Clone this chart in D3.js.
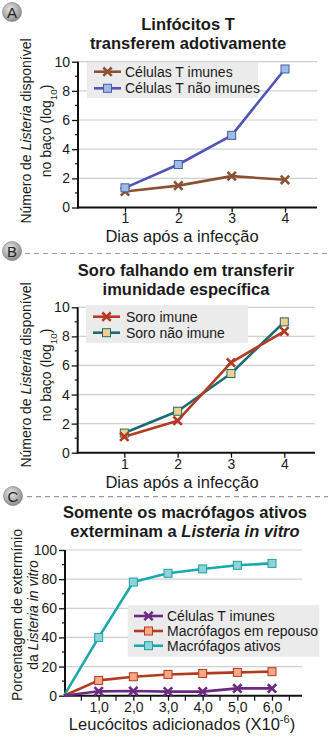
<!DOCTYPE html>
<html><head><meta charset="utf-8">
<script src="https://cdn.jsdelivr.net/npm/d3@7"></script>
<style>
body{margin:0;background:#fff;}
svg{display:block;font-family:"Liberation Sans",Arial,sans-serif;}
</style></head>
<body><svg id="c" width="328" height="741"></svg>
<script>
// ---- Data ----
const daysAB = [1, 2, 3, 4];
const aTImunes = [1.1, 1.5, 2.15, 1.9];
const aTNaoImunes = [1.35, 2.95, 4.95, 9.5];
const bSoroImune = [1.1, 2.2, 6.2, 8.35];
const bSoroNaoImune = [1.35, 2.85, 5.45, 9.0];
const leucC = [0, 1, 2, 3, 4, 5, 6];
const cTImunes = [0, 3, 3.2, 2.8, 2.8, 5, 5];
const cRepouso = [0, 10.5, 13, 14.6, 15.3, 16, 16.5];
const cAtivos = [0, 40, 78, 84, 87, 89.5, 90.8];
const ticksAB = [0, 2, 4, 6, 8, 10];
const minorAB = [1, 3, 5, 7, 9];
const ticksC = [0, 20, 40, 60, 80, 100];
const minorC = [10, 30, 50, 70, 90];
const xTicksC = [1, 2, 3, 4, 5, 6];
const xLabelsC = ["1,0", "2,0", "3,0", "4,0", "5,0", "6,0"];
const xMinorC = [0.5, 1.5, 2.5, 3.5, 4.5, 5.5, 6.5];

const svg = d3.select("#c");

function badge(cx, cy, letter) {
  const defs = svg.select("defs").empty() ? svg.append("defs") : svg.select("defs");
  if (defs.select("#bg").empty()) {
    const g = defs.append("radialGradient").attr("id", "bg").attr("cx", "40%").attr("cy", "35%").attr("r", "65%");
    g.append("stop").attr("offset", "0%").attr("stop-color", "#e6e6e6");
    g.append("stop").attr("offset", "100%").attr("stop-color", "#8e8e8e");
  }
  svg.append("circle").attr("cx", cx).attr("cy", cy).attr("r", 9.5).attr("fill", "url(#bg)").attr("stroke", "#777").attr("stroke-width", 0.6);
  svg.append("text").attr("x", cx).attr("y", cy + 5.5).attr("text-anchor", "middle").attr("font-size", 15).attr("fill", "#222").text(letter);
}

function dashLine(y, x0) {
  svg.append("line").attr("x1", x0).attr("x2", 328).attr("y1", y).attr("y2", y)
    .attr("stroke", "#9a9a9a").attr("stroke-width", 1.2).attr("stroke-dasharray", "5,4");
}

function title(lines, cx, y0) {
  lines.forEach((ln, i) => {
    const t = svg.append("text").attr("x", cx).attr("y", y0 + i * 18.5).attr("text-anchor", "middle")
      .attr("font-size", 16.5).attr("font-weight", "bold").attr("fill", "#1a1a1a");
    ln.forEach(seg => t.append("tspan").attr("font-style", seg.i ? "italic" : "normal").text(seg.t));
  });
}

function yLabel(lines, xs, cy, fs) {
  lines.forEach((ln, i) => {
    const t = svg.append("text").attr("transform", `translate(${xs[i]},${cy}) rotate(-90)`)
      .attr("text-anchor", "middle").attr("font-size", fs).attr("fill", "#1a1a1a");
    ln.forEach(seg => {
      const ts = t.append("tspan").attr("font-style", seg.i ? "italic" : "normal").text(seg.t);
      if (seg.sub) ts.attr("font-size", fs * 0.7).attr("baseline-shift", "sub");
    });
  });
}

function marker(g, type, x, y, stroke, fill) {
  if (type === "x") {
    const s = 4.2;
    g.append("path").attr("d", `M${x - s},${y - s}L${x + s},${y + s}M${x - s},${y + s}L${x + s},${y - s}`)
      .attr("stroke", stroke).attr("stroke-width", 2.6).attr("fill", "none");
  } else {
    g.append("rect").attr("x", x - 4).attr("y", y - 4).attr("width", 8).attr("height", 8)
      .attr("fill", fill).attr("stroke", stroke).attr("stroke-width", 1);
  }
}

function panel(o) {
  const {x, y, xAxisEnd, xAxisStart} = o;
  const g = svg.append("g");
  o.yTicks.filter(v => v > 0).forEach(v => {
    g.append("line").attr("x1", xAxisStart).attr("x2", xAxisEnd).attr("y1", y(v)).attr("y2", y(v))
      .attr("stroke", "#cfcfcf").attr("stroke-width", 1.2);
  });
  const L = o.legend;
  g.append("rect").attr("x", L.x0).attr("y", L.y0).attr("width", L.x1 - L.x0).attr("height", L.y1 - L.y0).attr("fill", "#ebebeb");
  const yAx = d3.axisLeft(y).tickValues(o.yTicks).tickSize(6).tickSizeOuter(0).tickPadding(2);
  const ya = g.append("g").attr("transform", `translate(${xAxisStart},0)`).call(yAx);
  ya.select(".domain").remove();
  ya.selectAll("line").attr("stroke", "#111").attr("stroke-width", 1.3);
  ya.selectAll("text").attr("font-size", 14).attr("fill", "#1a1a1a").attr("font-family", "Liberation Sans, Arial, sans-serif");
  o.yMinor.forEach(v => g.append("line").attr("x1", xAxisStart - 3).attr("x2", xAxisStart).attr("y1", y(v)).attr("y2", y(v)).attr("stroke", "#111").attr("stroke-width", 1.2));
  const xAx = d3.axisBottom(x).tickValues(o.xTicks).tickSize(5).tickSizeOuter(0).tickPadding(o.xPad || 1)
    .tickFormat((d, i) => o.xLabels ? o.xLabels[i] : d);
  const xa = g.append("g").attr("transform", `translate(0,${y(0)})`).call(xAx);
  xa.select(".domain").remove();
  xa.selectAll("line").attr("stroke", "#111").attr("stroke-width", 1.3);
  xa.selectAll("text").attr("font-size", 14).attr("fill", "#1a1a1a").attr("font-family", "Liberation Sans, Arial, sans-serif");
  if (o.xMinor) o.xMinor.forEach(v => g.append("line").attr("x1", x(v)).attr("x2", x(v)).attr("y1", y(0)).attr("y2", y(0) + 5).attr("stroke", "#111").attr("stroke-width", 1.2));
  g.append("line").attr("x1", xAxisStart).attr("x2", xAxisStart).attr("y1", y(o.yTicks[o.yTicks.length - 1])).attr("y2", y(0) + 1).attr("stroke", "#111").attr("stroke-width", 2);
  g.append("line").attr("x1", xAxisStart - 1).attr("x2", xAxisEnd).attr("y1", y(0)).attr("y2", y(0)).attr("stroke", "#111").attr("stroke-width", 2);
  const line = d3.line().x((d, i) => x(o.xs[i])).y(d => y(d));
  o.series.forEach(s => {
    g.append("path").datum(s.values).attr("d", line).attr("fill", "none").attr("stroke", s.color).attr("stroke-width", 2.6).attr("stroke-linejoin", "round");
  });
  o.series.forEach(s => {
    s.values.forEach((v, i) => { if (!(o.skipZero && o.xs[i] === 0)) marker(g, s.type, x(o.xs[i]), y(v), s.mstroke || s.color, s.fill); });
  });
  o.series.forEach((s, k) => {
    const idx = o.legendOrder ? o.legendOrder[k] : k;
    const ry = L.rows[idx];
    g.append("line").attr("x1", L.lx0).attr("x2", L.lx1).attr("y1", ry).attr("y2", ry).attr("stroke", s.color).attr("stroke-width", 2.6);
    marker(g, s.type, (L.lx0 + L.lx1) / 2, ry, s.mstroke || s.color, s.fill);
    g.append("text").attr("x", L.tx).attr("y", ry + 5).attr("font-size", 14).attr("fill", "#1a1a1a").text(s.name);
  });
}

// ---- Panel A ----
badge(12, 12, "A");
title([[{t: "Linfócitos T"}], [{t: "transferem adotivamente"}]], 188, 30);
yLabel([[{t: "Número de "}, {t: "Listeria", i: true}, {t: " disponível"}], [{t: "no baço (log"}, {t: "10", sub: true}, {t: ")"}]], [31, 51], 131, 14);
const xA = d3.scaleLinear().domain([1, 4]).range([125, 285]);
const yA = d3.scaleLinear().domain([0, 10]).range([207.5, 61.7]);
panel({x: xA, y: yA, xAxisStart: 78, xAxisEnd: 317, yTicks: ticksAB, yMinor: minorAB, xTicks: daysAB, xs: daysAB,
  legend: {x0: 87, x1: 258, y0: 62, y1: 98, rows: [71.7, 88.3], lx0: 94, lx1: 121, tx: 125},
  series: [
    {name: "Células T imunes", values: aTImunes, color: "#8a5232", type: "x"},
    {name: "Células T não imunes", values: aTNaoImunes, color: "#5252b8", type: "sq", fill: "#9dbde6", mstroke: "#4a5aa8"}
  ]});
svg.append("text").attr("x", 182).attr("y", 241.5).attr("text-anchor", "middle").attr("font-size", 16.5).attr("fill", "#1a1a1a").text("Dias após a infecção");

// ---- Panel B ----
dashLine(253.5, 25);
badge(12, 251, "B");
title([[{t: "Soro falhando em transferir"}], [{t: "imunidade específica"}]], 186, 276);
yLabel([[{t: "Número de "}, {t: "Listeria", i: true}, {t: " disponível"}], [{t: "no baço (log"}, {t: "10", sub: true}, {t: ")"}]], [31, 51], 375, 14);
const xB = d3.scaleLinear().domain([1, 4]).range([124.3, 284.3]);
const yB = d3.scaleLinear().domain([0, 10]).range([452.7, 307.3]);
panel({x: xB, y: yB, xAxisStart: 77.7, xAxisEnd: 315, yTicks: ticksAB, yMinor: minorAB, xTicks: daysAB, xs: daysAB,
  legend: {x0: 86, x1: 248, y0: 305, y1: 343, rows: [316.7, 332.7], lx0: 93, lx1: 120, tx: 126},
  series: [
    {name: "Soro não imune", values: bSoroNaoImune, color: "#1c6b6e", type: "sq", fill: "#f0d08c", mstroke: "#1c6b6e"},
    {name: "Soro imune", values: bSoroImune, color: "#b53a22", type: "x"}
  ], legendOrder: [1, 0]});
svg.append("text").attr("x", 182).attr("y", 487.5).attr("text-anchor", "middle").attr("font-size", 16.5).attr("fill", "#1a1a1a").text("Dias após a infecção");

// ---- Panel C ----
dashLine(496.7, 27);
badge(13, 496, "C");
title([[{t: "Somente os macrófagos ativos"}], [{t: "exterminam a "}, {t: "Listeria in vitro", i: true}]], 185, 518.3);
yLabel([[{t: "Porcentagem de extermínio"}], [{t: "da "}, {t: "Listeria in vitro", i: true}]], [22, 38], 615, 14);
const xC = d3.scaleLinear().domain([0, 6]).range([64, 272]);
const yC = d3.scaleLinear().domain([0, 100]).range([695.7, 550]);
panel({x: xC, y: yC, xAxisStart: 65, xAxisEnd: 302, yTicks: ticksC, yMinor: minorC, xTicks: xTicksC, xLabels: xLabelsC, xMinor: xMinorC, xs: leucC, skipZero: true, xPad: 1,
  legend: {x0: 127.7, x1: 319.3, y0: 605, y1: 656.7, rows: [616, 631, 645.7], lx0: 134, lx1: 163, tx: 167},
  series: [
    {name: "Macrófagos ativos", values: cAtivos, color: "#1aa8ad", type: "sq", fill: "#8fd3d6", mstroke: "#1aa0a5"},
    {name: "Macrófagos em repouso", values: cRepouso, color: "#b23a1e", type: "sq", fill: "#f5a888", mstroke: "#b23a1e"},
    {name: "Células T imunes", values: cTImunes, color: "#6a2a82", type: "x"}
  ], legendOrder: [2, 1, 0]});
const xt = svg.append("text").attr("x", 182).attr("y", 730).attr("text-anchor", "middle").attr("font-size", 16.5).attr("fill", "#1a1a1a");
xt.append("tspan").text("Leucócitos adicionados (X10");
xt.append("tspan").attr("font-size", 11).attr("dy", -7).text("-6");
xt.append("tspan").attr("dy", 7).text(")");
</script></body></html>
